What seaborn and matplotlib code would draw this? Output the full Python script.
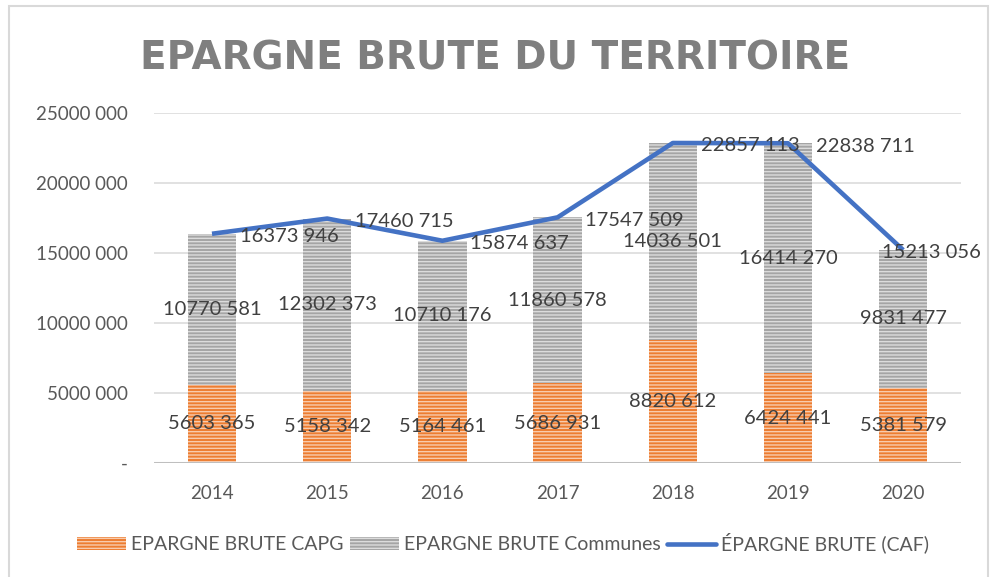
import matplotlib
matplotlib.use("Agg")
import matplotlib.pyplot as plt
import seaborn as sns
import pandas as pd
import numpy as np
from matplotlib.patches import Rectangle, Patch
from matplotlib.lines import Line2D

years = ["2014", "2015", "2016", "2017", "2018", "2019", "2020"]
capg = [5603365, 5158342, 5164461, 5686931, 8820612, 6424441, 5381579]
communes = [10770581, 12302373, 10710176, 11860578, 14036501, 16414270, 9831477]
caf = [16373946, 17460715, 15874637, 17547509, 22857113, 22838711, 15213056]
yticks = [0, 5000000, 10000000, 15000000, 20000000, 25000000]

sns.set_theme(style="white")
plt.rcParams["font.family"] = ["Lato", "DejaVu Sans"]
plt.rcParams["hatch.linewidth"] = 1.0

ORANGE = "#ED7D31"
ORANGE_L = "#F8CBAD"
GRAY = "#A5A5A5"
GRAY_L = "#DCDCDC"
BLUE = "#4472C4"
TXT = "#404040"
TICK = "#595959"

df = pd.DataFrame({"year": years, "capg": capg, "communes": communes, "caf": caf})

fig = plt.figure(figsize=(9.92, 5.77), dpi=100)
ax = fig.add_axes([154.4 / 992, 1 - 463 / 577, 806.4 / 992, 350 / 577])

sns.barplot(data=df, x="year", y="capg", order=years, color=ORANGE, width=0.42,
            saturation=1, ax=ax, zorder=3)
sns.barplot(data=df, x="year", y="communes", order=years, color=GRAY, width=0.42,
            saturation=1, bottom=df["capg"].values, ax=ax, zorder=3)
for i, cont in enumerate(ax.containers):
    for p in cont:
        p.set_hatch("-----")
        p.set_edgecolor(ORANGE_L if i == 0 else GRAY_L)
        p.set_linewidth(0)

sns.lineplot(x=np.arange(len(years)), y=caf, color=BLUE, linewidth=3.3, ax=ax,
             zorder=4, solid_capstyle="butt")

ax.set_xlim(-0.5, len(years) - 0.5)
ax.set_ylim(0, 25000000)
ax.set_yticks(yticks)


def fmt(v):
    v = int(v)
    if v == 0:
        return "-"
    return f"{v // 1000}" + " " + f"{v % 1000:03d}"


ax.set_yticklabels([fmt(v) for v in yticks], fontsize=13.5, color=TICK)
ax.set_xticks(range(len(years)))
ax.set_xticklabels(years, fontsize=13.5, color=TICK)
ax.tick_params(axis="y", length=0, pad=19)
ax.tick_params(axis="x", length=0, pad=16)
ax.set_xlabel("")
ax.set_ylabel("")
for s in ax.spines.values():
    s.set_visible(False)
for v in yticks[1:]:
    ax.axhline(v, color="#D9D9D9", lw=1.1, zorder=1)
ax.axhline(0, color="#BFBFBF", lw=2.2, zorder=5)

# data labels
for i in range(len(years)):
    ax.text(i, capg[i] / 2, fmt(capg[i]), ha="center", va="center",
            fontsize=14.5, color=TXT, zorder=6)
    ax.text(i, capg[i] + communes[i] / 2, fmt(communes[i]), ha="center", va="center",
            fontsize=14.5, color=TXT, zorder=6)
    if i == len(years) - 1:
        ax.annotate(fmt(caf[i]), (i, caf[i]), xytext=(-15, -2), textcoords="offset points",
                    ha="left", va="center", fontsize=14.5, color=TXT, zorder=6)
    else:
        ax.annotate(fmt(caf[i]), (i, caf[i]), xytext=(20, -2), textcoords="offset points",
                    ha="left", va="center", fontsize=14.5, color=TXT, zorder=6)

fig.text(495 / 992, 1 - 58 / 577, "EPARGNE BRUTE DU TERRITOIRE", ha="center", va="center",
         fontsize=28, fontweight="bold", color="#7F7F7F", family=["DejaVu Sans"])

handles = [
    Patch(facecolor=ORANGE, edgecolor=ORANGE_L, hatch="-----", linewidth=0),
    Patch(facecolor=GRAY, edgecolor=GRAY_L, hatch="-----", linewidth=0),
    Line2D([0], [0], color=BLUE, lw=3.3),
]
labels = ["EPARGNE BRUTE CAPG", "EPARGNE BRUTE Communes", "ÉPARGNE BRUTE (CAF)"]
fig.legend(handles, labels, loc="center", bbox_to_anchor=(503 / 992, 1 - 543 / 577),
           ncol=3, frameon=False, fontsize=14, handlelength=2.5, handleheight=0.7,
           handletextpad=0.25, columnspacing=0.35, labelcolor=TICK)

fig.add_artist(Rectangle((9 / 992, -0.05), (988 - 9) / 992, 1.05 - 6 / 577,
                         transform=fig.transFigure, fill=False, edgecolor="#D9D9D9", lw=1.5))

fig.savefig("out.png", dpi=100)
